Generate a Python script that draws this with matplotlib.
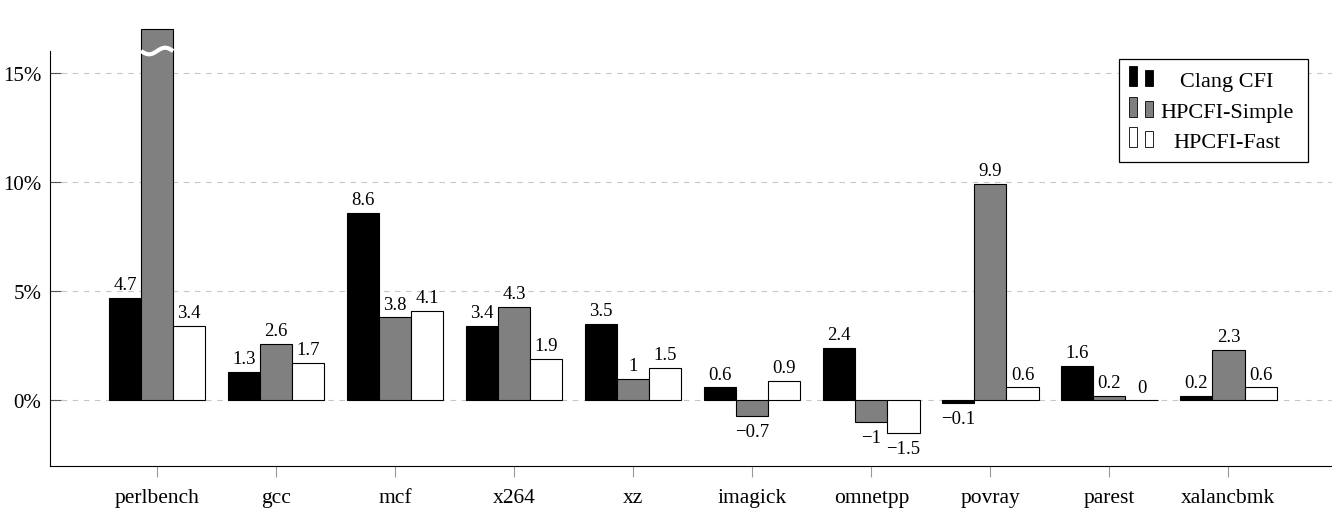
import numpy as np
import matplotlib
matplotlib.use("Agg")
import matplotlib.pyplot as plt
from matplotlib.patches import Rectangle
from matplotlib.text import Text
from matplotlib.legend_handler import HandlerBase

plt.rcParams['font.family'] = ['Liberation Serif', 'DejaVu Serif']

# overhead per benchmark (%)
benchmarks = ['perlbench', 'gcc', 'mcf', 'x264', 'xz', 'imagick',
              'omnetpp', 'povray', 'parest', 'xalancbmk']
clang_cfi = [4.7, 1.3, 8.6, 3.4, 3.5, 0.6, 2.4, -0.1, 1.6, 0.2]
hpcfi_simple = [57.1, 2.6, 3.8, 4.3, 1, -0.7, -1, 9.9, 0.2, 2.3]
hpcfi_fast = [3.4, 1.7, 4.1, 1.9, 1.5, 0.9, -1.5, 0.6, 0, 0.6]
series_names = ['Clang CFI', 'HPCFI-Simple', 'HPCFI-Fast']
yticks = [0, 5, 10, 15]

colors = ['black', '#808080', 'white']
y_lo, y_hi = -3, 16
bar_cap = 17          # bars taller than this get cut with a break mark
width = 0.27


class TwoBarHandler(HandlerBase):
    # pgfplots-style ybar legend image (two small bars) with a centred label
    def __init__(self, label):
        super().__init__()
        self.label = label

    def create_artists(self, legend, orig_handle, xdescent, ydescent,
                       width, height, fontsize, trans):
        fc = orig_handle.get_facecolor()
        x0 = -xdescent
        w = 6.0
        r1 = Rectangle((x0, 0), w, 14.5, facecolor=fc, edgecolor='black',
                       lw=0.6, transform=trans)
        r2 = Rectangle((x0 + w + 5.5, 0), w, 11.5, facecolor=fc,
                       edgecolor='black', lw=0.6, transform=trans)
        txt = Text(x0 + (2 * w + 5.5 + width) / 2 + 1, 0, self.label,
                   ha='center', va='baseline', fontsize=fontsize,
                   transform=trans)
        return [r1, r2, txt]


def fmt(v):
    return f"{v:g}".replace('-', '\u2212')


fig = plt.figure(figsize=(13.32, 5.10), dpi=100)
ax = fig.add_axes([0.0375, 0.0843, 0.9625, 0.8137])

x = np.arange(len(benchmarks))
handles = []
for i, (vals, c) in enumerate(zip([clang_cfi, hpcfi_simple, hpcfi_fast], colors)):
    vals = np.array(vals, dtype=float)
    heights = np.minimum(vals, bar_cap)
    xs = x + (i - 1) * width
    bars = ax.bar(xs, heights, width, color=c, edgecolor='black',
                  linewidth=0.8, zorder=2, clip_on=False)
    handles.append(bars[0])
    for xi, h, v in zip(xs, heights, vals):
        if v < 0:
            ax.annotate(fmt(v), (xi, h), xytext=(0, -5), textcoords='offset points',
                        ha='center', va='top', fontsize=13.5)
        else:
            ax.annotate(fmt(v), (xi, h), xytext=(0, 3.5), textcoords='offset points',
                        ha='center', va='bottom', fontsize=13.5)
        if v > bar_cap:
            wx = np.linspace(xi - width / 2, xi + width / 2, 60)
            wy = y_hi + 0.15 * np.sin((wx - wx[0]) / width * 2 * np.pi + np.pi)
            ax.plot(wx, wy, color='white', lw=3.0, zorder=3, clip_on=False,
                    solid_capstyle='butt')

ax.set_xlim(-0.9, 9.87)
ax.set_ylim(y_lo, y_hi)
ax.set_xticks(x)
ax.set_xticklabels(benchmarks, fontsize=15.5)
ax.set_yticks(yticks)
ax.set_yticklabels([f"{t}%" for t in yticks], fontsize=15)

ax.yaxis.grid(True, linestyle=(0, (5, 5)), color='#c8c8c8', linewidth=0.8, zorder=0)
ax.set_axisbelow(True)
ax.spines['top'].set_visible(False)
ax.spines['right'].set_visible(False)
ax.tick_params(axis='y', direction='in', length=8, color='#555555', pad=6)
ax.tick_params(axis='x', direction='out', length=8, color='#999999', pad=8)

leg = ax.legend(handles, ['', '', ''], loc='upper right',
                bbox_to_anchor=(0.981, 0.981), fontsize=16,
                handler_map={h: TwoBarHandler(n) for h, n in zip(handles, series_names)},
                fancybox=False, edgecolor='black', framealpha=1,
                handlelength=7.6, handleheight=1.0, handletextpad=0,
                labelspacing=0.35, borderpad=0.45, borderaxespad=0)
leg.get_frame().set_linewidth(0.9)

fig.savefig('out.png', dpi=100)
